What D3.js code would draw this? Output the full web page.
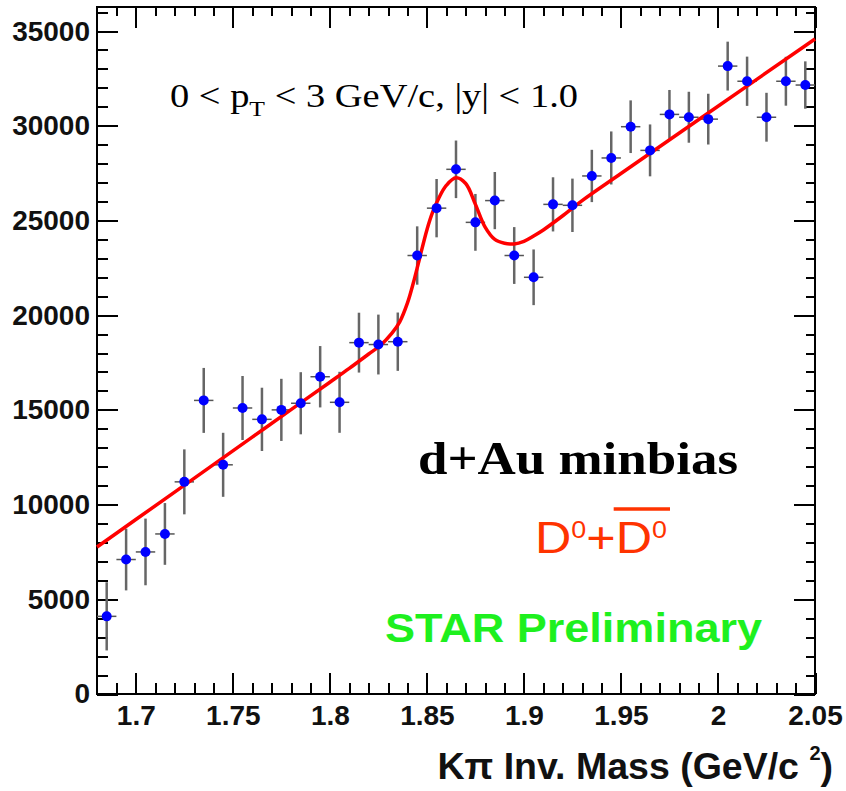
<!DOCTYPE html>
<meta charset="utf-8">
<style>
body { margin: 0; background: #fff; }
.axis line { stroke: #000; stroke-width: 2px; shape-rendering: crispEdges; }
.axis path { display: none; }
.axis text { font-family: "Liberation Sans", Arial, sans-serif; font-weight: bold; font-size: 28px; fill: #111; }
</style>
<script src="https://d3js.org/d3.v7.min.js"></script>
<body>
<div id="chart"></div>
<script>
// bin centres (GeV/c^2), counts and errors
var massBins = [1.685, 1.695, 1.705, 1.715, 1.725, 1.735, 1.745, 1.755, 1.765, 1.775,
                1.785, 1.795, 1.805, 1.815, 1.825, 1.835, 1.845, 1.855, 1.865, 1.875,
                1.885, 1.895, 1.905, 1.915, 1.925, 1.935, 1.945, 1.955, 1.965, 1.975,
                1.985, 1.995, 2.005, 2.015, 2.025, 2.035, 2.045];
var counts = [4100, 7100, 7500, 8450, 11200, 15500, 12100, 15100, 14500, 15000,
              15350, 16750, 15400, 18550, 18450, 18600, 23150, 25650, 27700, 24900,
              26050, 23150, 22000, 25850, 25800, 27350, 28300, 29950, 28700, 30600,
              30450, 30350, 33150, 32350, 30450, 32350, 32150];
var errors = [1800, 1630, 1760, 1630, 1715, 1715, 1690, 1690, 1670, 1640,
              1640, 1620, 1610, 1580, 1580, 1540, 1540, 1540, 1520, 1500,
              1510, 1500, 1470, 1430, 1410, 1380, 1400, 1390, 1370, 1290,
              1345, 1340, 1290, 1300, 1290, 1290, 1250];
var binHalf = 0.005;

// fit curve (linear background + peak), sampled off the plot
var fitX = [1.68, 1.70, 1.72, 1.74, 1.76, 1.78, 1.80, 1.81, 1.82, 1.826, 1.832, 1.836,
            1.840, 1.843, 1.846, 1.850, 1.853, 1.856, 1.860, 1.865, 1.870, 1.875,
            1.880, 1.885, 1.890, 1.895, 1.900, 1.905, 1.91, 1.92, 1.93, 1.95, 2.0, 2.05];
var fitY = [7760, 9210, 10660, 12110, 13560, 15010, 16460, 17190, 17950, 18400, 19050, 19650,
            20650, 21700, 22900, 24500, 25450, 26150, 26850, 27250, 26950, 25850,
            24650, 24000, 23800, 23760, 23900, 24180, 24500, 25250, 26050, 27480, 31030, 34580];

var xTicks = [1.7, 1.75, 1.8, 1.85, 1.9, 1.95, 2, 2.05];
var yTicks = [0, 5000, 10000, 15000, 20000, 25000, 30000, 35000];

var W = 846, H = 791;
var plotL = 97, plotR = 815, plotT = 7, plotB = 694;
var yMax = 36270;

var svg = d3.select("#chart").append("svg")
    .attr("width", W).attr("height", H);

var x = d3.scaleLinear().domain([1.68, 2.05]).range([plotL, plotR]);
var y = d3.scaleLinear().domain([0, yMax]).range([plotB, plotT]);

var xMinor = d3.range(169, 206).map(function (d) { return d / 100; });
var yMinor = d3.range(0, 37).map(function (d) { return d * 1000; });

// bottom axis
svg.append("g").attr("class", "axis")
    .attr("transform", "translate(0," + plotB + ")")
    .call(d3.axisBottom(x).tickValues(xMinor).tickSize(-11).tickFormat(""));
svg.append("g").attr("class", "axis")
    .attr("transform", "translate(0," + plotB + ")")
    .call(d3.axisBottom(x).tickValues(xTicks).tickSize(-21).tickPadding(11)
        .tickFormat(function (d) { return d3.format("")(d); }));

// top axis
svg.append("g").attr("class", "axis")
    .attr("transform", "translate(0," + plotT + ")")
    .call(d3.axisTop(x).tickValues(xMinor).tickSize(-9).tickFormat(""));
svg.append("g").attr("class", "axis")
    .attr("transform", "translate(0," + plotT + ")")
    .call(d3.axisTop(x).tickValues(xTicks).tickSize(-21).tickFormat(""));

// left axis
svg.append("g").attr("class", "axis")
    .attr("transform", "translate(" + plotL + ",0)")
    .call(d3.axisLeft(y).tickValues(yMinor).tickSize(-11).tickFormat(""));
svg.append("g").attr("class", "axis")
    .attr("transform", "translate(" + plotL + ",0)")
    .call(d3.axisLeft(y).tickValues(yTicks).tickSize(-21).tickPadding(7).tickFormat(d3.format("d")));

// right axis
svg.append("g").attr("class", "axis")
    .attr("transform", "translate(" + plotR + ",0)")
    .call(d3.axisRight(y).tickValues(yMinor).tickSize(-9).tickFormat(""));
svg.append("g").attr("class", "axis")
    .attr("transform", "translate(" + plotR + ",0)")
    .call(d3.axisRight(y).tickValues(yTicks).tickSize(-21).tickFormat(""));

// frame
svg.append("rect")
    .attr("x", plotL).attr("y", plotT)
    .attr("width", plotR - plotL).attr("height", plotB - plotT)
    .attr("fill", "none").attr("stroke", "#000").attr("stroke-width", 2);

var pts = massBins.map(function (m, i) { return {m: m, c: counts[i], e: errors[i]}; });

// error bars
var eb = svg.append("g");
eb.selectAll("line.v").data(pts).enter().append("line")
    .attr("class", "v")
    .attr("x1", function (d) { return x(d.m); })
    .attr("x2", function (d) { return x(d.m); })
    .attr("y1", function (d) { return y(d.c - d.e); })
    .attr("y2", function (d) { return y(Math.min(d.c + d.e, yMax)); })
    .attr("stroke", "#666").attr("stroke-width", 2.5);
eb.selectAll("line.h").data(pts).enter().append("line")
    .attr("class", "h")
    .attr("x1", function (d) { return x(d.m - binHalf); })
    .attr("x2", function (d) { return x(d.m + binHalf); })
    .attr("y1", function (d) { return y(d.c); })
    .attr("y2", function (d) { return y(d.c); })
    .attr("stroke", "#555").attr("stroke-width", 1.5);

// fit line
var fit = fitX.map(function (v, i) { return [v, fitY[i]]; });
svg.append("path")
    .datum(fit)
    .attr("fill", "none")
    .attr("stroke", "#ff0000")
    .attr("stroke-width", 3.5)
    .attr("d", d3.line()
        .x(function (d) { return x(d[0]); })
        .y(function (d) { return y(d[1]); })
        .curve(d3.curveCatmullRom.alpha(0.5)));

// markers
svg.append("g").selectAll("circle").data(pts).enter().append("circle")
    .attr("cx", function (d) { return x(d.m); })
    .attr("cy", function (d) { return y(d.c); })
    .attr("r", 5)
    .attr("fill", "#0000ff");

// kinematic range label
var kin = svg.append("text")
    .attr("x", 170).attr("y", 107)
    .attr("textLength", 408).attr("lengthAdjust", "spacingAndGlyphs")
    .style("font-family", "'Liberation Serif', 'Times New Roman', serif")
    .style("font-size", "33px")
    .attr("fill", "#000");
kin.append("tspan").text("0 < p");
kin.append("tspan").attr("dy", 9).style("font-size", "22px").text("T");
kin.append("tspan").attr("dy", -9).text(" < 3 GeV/c, |y| < 1.0");

// system label
svg.append("text")
    .attr("x", 418).attr("y", 474)
    .attr("textLength", 320).attr("lengthAdjust", "spacingAndGlyphs")
    .style("font-family", "'Liberation Serif', 'Times New Roman', serif")
    .style("font-weight", "bold")
    .style("font-size", "46px")
    .attr("fill", "#000")
    .text("d+Au minbias");

// D0 + D0bar label
var dt = svg.append("text")
    .attr("x", 535).attr("y", 553)
    .attr("textLength", 132).attr("lengthAdjust", "spacingAndGlyphs")
    .style("font-family", "'Liberation Sans', Arial, sans-serif")
    .style("font-size", "45px")
    .attr("fill", "#ff3300");
dt.append("tspan").text("D");
dt.append("tspan").attr("dy", -15).style("font-size", "24px").text("0");
dt.append("tspan").attr("dy", 15).text("+D");
dt.append("tspan").attr("dy", -15).style("font-size", "24px").text("0");
var e3 = dt.node().getExtentOfChar(3), e4 = dt.node().getExtentOfChar(4);
svg.append("line")
    .attr("x1", e3.x - 2).attr("x2", e4.x + e4.width + 3)
    .attr("y1", 509).attr("y2", 509)
    .attr("stroke", "#ff3300").attr("stroke-width", 3.5);

// preliminary label
svg.append("text")
    .attr("x", 385).attr("y", 642)
    .attr("textLength", 377).attr("lengthAdjust", "spacingAndGlyphs")
    .style("font-family", "'Liberation Sans', Arial, sans-serif")
    .style("font-weight", "bold")
    .style("font-size", "40px")
    .attr("fill", "#1ef01e")
    .text("STAR Preliminary");

// x axis title
var xt = svg.append("text")
    .attr("x", 833).attr("y", 779)
    .attr("text-anchor", "end")
    .style("font-family", "'Liberation Sans', Arial, sans-serif")
    .style("font-weight", "bold")
    .style("font-size", "37.5px")
    .attr("fill", "#111");
xt.append("tspan").text("K\u03c0 Inv. Mass (GeV/c ");
xt.append("tspan").attr("dy", -19).style("font-size", "20px").text("2");
xt.append("tspan").attr("dy", 19).text(")");
</script>
</body>
